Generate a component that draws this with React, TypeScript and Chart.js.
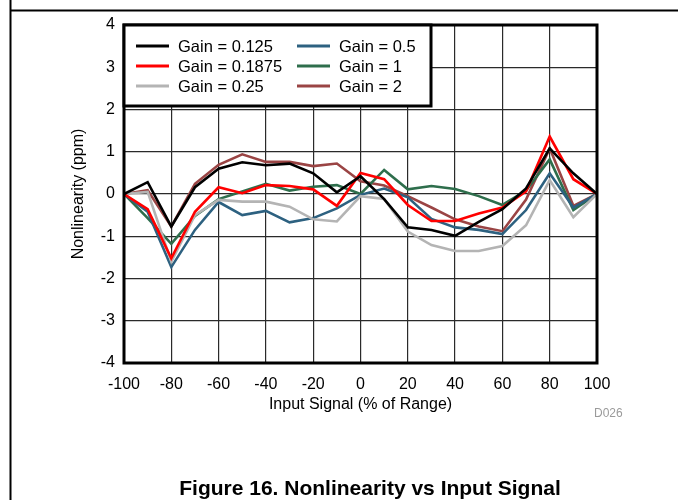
import React, { useEffect, useRef } from "react";
import { Chart, registerables } from "chart.js";

Chart.register(...registerables);

const xValues = [-100, -90, -80, -70, -60, -50, -40, -30, -20, -10, 0, 10, 20, 30, 40, 50, 60, 70, 80, 90, 100];

const gain0125 = [0, 0.28, -0.77, 0.16, 0.6, 0.75, 0.68, 0.72, 0.49, 0.04, 0.42, -0.12, -0.79, -0.85, -0.99, -0.66, -0.36, 0.13, 1.08, 0.49, 0];
const gain01875 = [0, -0.36, -1.52, -0.42, 0.16, 0.02, 0.21, 0.19, 0.11, -0.28, 0.5, 0.35, -0.26, -0.64, -0.64, -0.46, -0.32, 0.06, 1.36, 0.35, 0];
const gain025 = [0, 0.05, -1.6, -0.5, -0.14, -0.18, -0.18, -0.3, -0.6, -0.65, -0.05, -0.12, -0.89, -1.21, -1.35, -1.35, -1.23, -0.74, 0.33, -0.55, 0];
const gain05 = [0, -0.42, -1.73, -0.85, -0.19, -0.5, -0.4, -0.67, -0.57, -0.34, -0.02, 0.13, -0.08, -0.59, -0.79, -0.85, -0.95, -0.38, 0.49, -0.32, 0];
const gain1 = [0, -0.57, -1.18, -0.52, -0.12, 0.06, 0.24, 0.08, 0.17, 0.21, 0.0, 0.57, 0.11, 0.19, 0.12, -0.05, -0.26, 0.08, 0.82, -0.38, 0];
const gain2 = [0, 0.09, -0.77, 0.24, 0.69, 0.94, 0.76, 0.76, 0.66, 0.72, 0.3, 0.2, -0.05, -0.32, -0.6, -0.77, -0.88, -0.13, 1.08, -0.28, 0];

const seriesLabels = ["Gain = 0.125", "Gain = 0.1875", "Gain = 0.25", "Gain = 0.5", "Gain = 1", "Gain = 2"];
const seriesValues = [gain0125, gain01875, gain025, gain05, gain1, gain2];
const seriesColors = ["#000000", "#ff0000", "#b4b4b4", "#2d6180", "#2e6e4c", "#9a4444"];

const xTitle = "Input Signal (% of Range)";
const yTitle = "Nonlinearity (ppm)";
const figureCaption = "Figure 16. Nonlinearity vs Input Signal";
const figureId = "D026";

const FONT = "'Liberation Sans', Arial, sans-serif";

export default function App() {
  const ref = useRef<HTMLCanvasElement | null>(null);

  useEffect(() => {
    if (!ref.current) return;
    const decor = {
      id: "decor",
      afterDraw(chart: any) {
        const ctx = chart.ctx as CanvasRenderingContext2D;
        const a = chart.chartArea;
        ctx.save();
        // page frame lines
        ctx.strokeStyle = "#000";
        ctx.lineWidth = 2;
        ctx.beginPath();
        ctx.moveTo(10.5, 0);
        ctx.lineTo(10.5, 500);
        ctx.moveTo(10, 10.5);
        ctx.lineTo(678, 10.5);
        ctx.stroke();
        // plot border
        ctx.lineWidth = 3;
        ctx.strokeRect(a.left, a.top, a.right - a.left, a.bottom - a.top);
        // legend
        const lx = a.left, ly = a.top, lw = 307, lh = 81;
        ctx.fillStyle = "#fff";
        ctx.fillRect(lx, ly, lw, lh);
        ctx.lineWidth = 3;
        ctx.strokeStyle = "#000";
        ctx.strokeRect(lx, ly, lw, lh);
        ctx.font = `16.5px ${FONT}`;
        ctx.textBaseline = "middle";
        ctx.textAlign = "left";
        const colLine = [136, 297];
        const colText = [178, 339];
        const rows = [46, 66, 86];
        for (let i = 0; i < seriesLabels.length; i++) {
          const c = Math.floor(i / 3);
          const r = i % 3;
          ctx.strokeStyle = seriesColors[i];
          ctx.lineWidth = 3;
          ctx.beginPath();
          ctx.moveTo(colLine[c], rows[r]);
          ctx.lineTo(colLine[c] + 33, rows[r]);
          ctx.stroke();
          ctx.fillStyle = "#000";
          ctx.fillText(seriesLabels[i], colText[c], rows[r] + 1);
        }
        // axis titles
        ctx.fillStyle = "#000";
        ctx.font = `16px ${FONT}`;
        ctx.textAlign = "center";
        ctx.textBaseline = "alphabetic";
        ctx.fillText(xTitle, (a.left + a.right) / 2, 409);
        ctx.save();
        ctx.translate(83, (a.top + a.bottom) / 2);
        ctx.rotate(-Math.PI / 2);
        ctx.fillText(yTitle, 0, 0);
        ctx.restore();
        // figure id
        ctx.fillStyle = "#9a9a9a";
        ctx.font = `12px ${FONT}`;
        ctx.textAlign = "left";
        ctx.fillText(figureId, 594, 417);
        // caption
        ctx.fillStyle = "#000";
        ctx.font = `bold 21px ${FONT}`;
        ctx.textAlign = "center";
        ctx.fillText(figureCaption, 370, 495);
        ctx.restore();
      },
    };

    const chart = new Chart(ref.current, {
      type: "line",
      data: {
        datasets: seriesValues.map((vals, i) => ({
          label: seriesLabels[i],
          data: vals.map((v, k) => ({ x: xValues[k], y: v })),
          borderColor: seriesColors[i],
          backgroundColor: seriesColors[i],
          borderWidth: 2.6,
          pointRadius: 0,
          tension: 0,
          fill: false,
        })),
      },
      options: {
        responsive: false,
        animation: false,
        layout: { padding: { top: 25, right: 81, left: 0, bottom: 0 } },
        plugins: { legend: { display: false }, tooltip: { enabled: false }, title: { display: false } },
        scales: {
          x: {
            type: "linear",
            min: -100,
            max: 100,
            afterFit: (s: any) => { s.height = 137; },
            ticks: { stepSize: 20, color: "#000", font: { family: FONT, size: 16 }, padding: 12, maxRotation: 0 },
            grid: { color: "#2a2a2a", lineWidth: 1.2, drawTicks: false },
            border: { display: false },
          },
          y: {
            min: -4,
            max: 4,
            afterFit: (s: any) => { s.width = 124; },
            ticks: { stepSize: 1, color: "#000", font: { family: FONT, size: 16 }, padding: 9 },
            grid: { color: "#2a2a2a", lineWidth: 1.2, drawTicks: false },
            border: { display: false },
          },
        },
      },
      plugins: [decor],
    });
    return () => chart.destroy();
  }, []);

  return (
    <div style={{ position: "absolute", left: 0, top: 0, width: 678, height: 500, background: "#fff" }}>
      <canvas ref={ref} width={678} height={500} style={{ display: "block" }} />
    </div>
  );
}
